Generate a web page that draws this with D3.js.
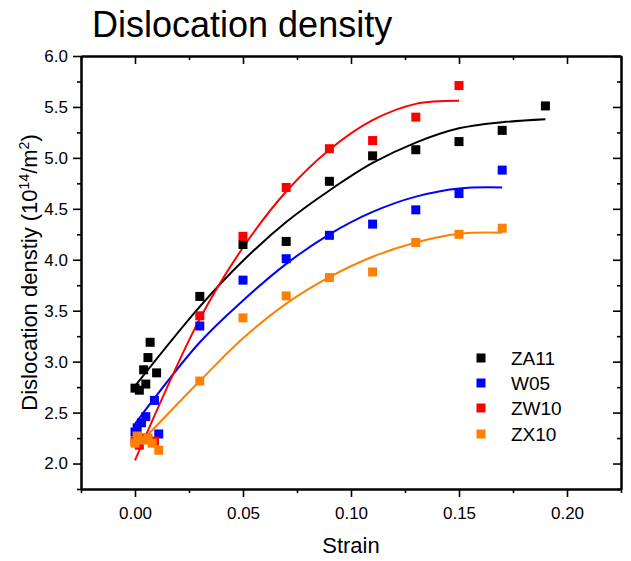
<!DOCTYPE html>
<html>
<head>
<meta charset="utf-8">
<script src="https://cdn.jsdelivr.net/npm/d3@7"></script>
<style>
  body { margin: 0; background: #fff; }
  text { font-family: "Liberation Sans", Arial, sans-serif; }
</style>
</head>
<body>
<svg id="chart" width="631" height="561"></svg>
<script>
// ---- data ----
const seriesNames = ["ZA11", "W05", "ZW10", "ZX10"];
const seriesColors = ["#000000", "#0000ff", "#ff0000", "#ff8000"];

const za11Strain = [0.000, 0.002, 0.004, 0.005, 0.006, 0.007, 0.010, 0.03, 0.05, 0.07, 0.09, 0.11, 0.13, 0.15, 0.17, 0.19];
const za11Density = [2.74, 2.72, 2.92, 2.78, 3.04, 3.19, 2.89, 3.64, 4.15, 4.18, 4.77, 5.02, 5.08, 5.16, 5.27, 5.51];

const w05Strain = [0.000, 0.001, 0.003, 0.005, 0.009, 0.011, 0.03, 0.05, 0.07, 0.09, 0.11, 0.13, 0.15, 0.17];
const w05Density = [2.31, 2.35, 2.40, 2.46, 2.62, 2.29, 3.35, 3.80, 4.01, 4.24, 4.35, 4.49, 4.65, 4.88];

const zw10Strain = [0.000, 0.002, 0.005, 0.009, 0.03, 0.05, 0.07, 0.09, 0.11, 0.13, 0.15];
const zw10Density = [2.22, 2.18, 2.25, 2.22, 3.45, 4.23, 4.71, 5.09, 5.17, 5.40, 5.71];

const zx10Strain = [0.000, 0.001, 0.004, 0.006, 0.008, 0.011, 0.03, 0.05, 0.07, 0.09, 0.11, 0.13, 0.15, 0.17];
const zx10Density = [2.20, 2.27, 2.23, 2.25, 2.20, 2.13, 2.81, 3.43, 3.645, 3.825, 3.88, 4.17, 4.25, 4.31];

// fitted curves
const za11FitStrain = [0, 0.03, 0.05, 0.07, 0.09, 0.11, 0.13, 0.15, 0.17, 0.19];
const za11FitDensity = [2.76, 3.54, 3.99, 4.37, 4.68, 4.95, 5.15, 5.29, 5.35, 5.38];
const w05FitStrain = [0, 0.03, 0.05, 0.07, 0.09, 0.11, 0.13, 0.15, 0.17];
const w05FitDensity = [2.39, 3.19, 3.60, 3.96, 4.25, 4.47, 4.62, 4.70, 4.71];
const zw10FitStrain = [0, 0.03, 0.05, 0.07, 0.09, 0.11, 0.13, 0.15];
const zw10FitDensity = [2.03, 3.42, 4.12, 4.67, 5.08, 5.37, 5.53, 5.56];
const zx10FitStrain = [0, 0.03, 0.05, 0.07, 0.09, 0.11, 0.13, 0.15, 0.17];
const zx10FitDensity = [2.15, 2.81, 3.23, 3.57, 3.83, 4.03, 4.17, 4.255, 4.265];

const xTicks = [0.00, 0.05, 0.10, 0.15, 0.20];
const xMinorTicks = [-0.025, 0.025, 0.075, 0.125, 0.175, 0.225];
const yTicks = [2.0, 2.5, 3.0, 3.5, 4.0, 4.5, 5.0, 5.5, 6.0];
const yMinorTicks = [1.75, 2.25, 2.75, 3.25, 3.75, 4.25, 4.75, 5.25, 5.75];

// ---- build ----
const points = [
  {strain: za11Strain, dens: za11Density},
  {strain: w05Strain, dens: w05Density},
  {strain: zw10Strain, dens: zw10Density},
  {strain: zx10Strain, dens: zx10Density}
];
const fits = [
  {strain: za11FitStrain, dens: za11FitDensity},
  {strain: w05FitStrain, dens: w05FitDensity},
  {strain: zw10FitStrain, dens: zw10FitDensity},
  {strain: zx10FitStrain, dens: zx10FitDensity}
];

const svg = d3.select("#chart");
const L = 81, R = 621, T = 56, B = 489;
const x = d3.scaleLinear().domain([-0.025, 0.225]).range([L, R]);
const y = d3.scaleLinear().domain([1.75, 6.0]).range([B, T]);

// title
svg.append("text").attr("x", 92).attr("y", 37)
  .attr("font-size", 36).attr("fill", "#000").text("Dislocation density");

// fits
const line = d3.line().x(d => x(d[0])).y(d => y(d[1])).curve(d3.curveCatmullRom.alpha(0.5));
fits.forEach((f, i) => {
  const pts = f.strain.map((s, j) => [s, f.dens[j]]);
  svg.append("path").attr("d", line(pts)).attr("fill", "none")
    .attr("stroke", seriesColors[i]).attr("stroke-width", 2);
});

// markers
const ms = 9;
points.forEach((p, i) => {
  svg.append("g").selectAll("rect").data(p.strain.map((s, j) => [s, p.dens[j]]))
    .join("rect")
    .attr("x", d => x(d[0]) - ms / 2).attr("y", d => y(d[1]) - ms / 2)
    .attr("width", ms).attr("height", ms).attr("fill", seriesColors[i]);
});

// axes
const fmtX = d3.format(".2f"), fmtY = d3.format(".1f");
const gBottom = svg.append("g").attr("transform", `translate(0,${B})`)
  .call(d3.axisBottom(x).tickValues(xTicks).tickFormat(fmtX).tickSize(8).tickSizeOuter(0).tickPadding(10));
const gBottomMinor = svg.append("g").attr("transform", `translate(0,${B})`)
  .call(d3.axisBottom(x).tickValues(xMinorTicks).tickFormat("").tickSize(4).tickSizeOuter(0));
const gTop = svg.append("g").attr("transform", `translate(0,${T})`)
  .call(d3.axisBottom(x).tickValues(xTicks).tickFormat("").tickSize(8).tickSizeOuter(0));
const gTopMinor = svg.append("g").attr("transform", `translate(0,${T})`)
  .call(d3.axisBottom(x).tickValues(xMinorTicks).tickFormat("").tickSize(4).tickSizeOuter(0));
const gLeft = svg.append("g").attr("transform", `translate(${L},0)`)
  .call(d3.axisLeft(y).tickValues(yTicks).tickFormat(fmtY).tickSize(8).tickSizeOuter(0).tickPadding(5));
const gLeftMinor = svg.append("g").attr("transform", `translate(${L},0)`)
  .call(d3.axisLeft(y).tickValues(yMinorTicks).tickFormat("").tickSize(4).tickSizeOuter(0));
const gRight = svg.append("g").attr("transform", `translate(${R},0)`)
  .call(d3.axisLeft(y).tickValues(yTicks).tickFormat("").tickSize(8).tickSizeOuter(0));
const gRightMinor = svg.append("g").attr("transform", `translate(${R},0)`)
  .call(d3.axisLeft(y).tickValues(yMinorTicks).tickFormat("").tickSize(4).tickSizeOuter(0));

[gBottom, gBottomMinor, gTop, gTopMinor, gLeft, gLeftMinor, gRight, gRightMinor].forEach(g => {
  g.select(".domain").attr("stroke", "#000").attr("stroke-width", 2);
  g.selectAll(".tick line").attr("stroke", "#000").attr("stroke-width", 1.6);
  g.selectAll(".tick text").attr("font-size", 17).attr("fill", "#000")
    .attr("font-family", "'Liberation Sans', Arial, sans-serif");
});

// axis labels
svg.append("text").attr("x", (L + R) / 2).attr("y", 553).attr("text-anchor", "middle")
  .attr("font-size", 22).text("Strain");
const yl = svg.append("text").attr("transform", `translate(37,${(T + B) / 2}) rotate(-90)`)
  .attr("text-anchor", "middle").attr("font-size", 22);
yl.append("tspan").text("Dislocation denstiy (10");
yl.append("tspan").attr("font-size", 14).attr("dy", -8).text("14");
yl.append("tspan").attr("dy", 8).text("/m");
yl.append("tspan").attr("font-size", 14).attr("dy", -8).text("2");
yl.append("tspan").attr("dy", 8).text(")");

// legend
const legY = [358, 383, 408, 434];
seriesNames.forEach((n, i) => {
  svg.append("rect").attr("x", 481 - ms / 2).attr("y", legY[i] - ms / 2)
    .attr("width", ms).attr("height", ms).attr("fill", seriesColors[i]);
  svg.append("text").attr("x", 511).attr("y", legY[i]).attr("dy", "0.35em")
    .attr("font-size", 19).text(n);
});
</script>
</body>
</html>
